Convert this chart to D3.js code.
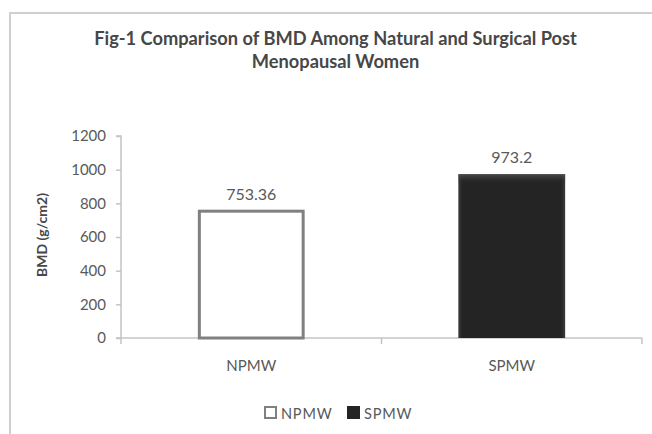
<!DOCTYPE html>
<html>
<head>
<meta charset="utf-8">
<script src="https://cdn.jsdelivr.net/npm/d3@7"></script>
<style>
  html, body { margin: 0; padding: 0; background: #ffffff; }
  svg { display: block; }
  text { font-family: Lato, "Open Sans", sans-serif; }
</style>
</head>
<body>
<svg id="chart" width="652" height="434"></svg>
<script>
const categories = ["NPMW", "SPMW"];
const values = [753.36, 973.2];
const valueLabels = ["753.36", "973.2"];
const yTicks = [0, 200, 400, 600, 800, 1000, 1200];
const titleLines = ["Fig-1 Comparison of BMD Among Natural and Surgical Post", "Menopausal Women"];
const yAxisTitle = "BMD (g/cm2)";

const svg = d3.select("#chart");
const W = 652, H = 434;

// outer chart border (extends past the right and bottom edges)
svg.append("path")
  .attr("d", `M10,${H + 2} L10,13 L${W + 2},13`)
  .attr("fill", "none").attr("stroke", "#cfcfcf").attr("stroke-width", 2);

const m = { left: 121, right: 642, top: 136, bottom: 338 };

const x = d3.scaleBand().domain(categories).range([m.left, m.right]).paddingInner(0.59).paddingOuter(0.295);
const y = d3.scaleLinear().domain([0, 1200]).range([m.bottom, m.top]);

// Title
const fitText = (sel, target) => {
  const fs = parseFloat(sel.attr("font-size"));
  const len = sel.node().getComputedTextLength();
  sel.attr("font-size", (fs * target / len).toFixed(2));
};
const t1 = svg.append("text").attr("x", 335.5).attr("y", 45).attr("text-anchor", "middle")
  .attr("font-size", 16).attr("font-weight", "bold").attr("fill", "#474747").text(titleLines[0]);
fitText(t1, 483);
const t1fs = t1.attr("font-size");
svg.append("text").attr("x", 335.5).attr("y", 68).attr("text-anchor", "middle")
  .attr("font-size", t1fs).attr("font-weight", "bold").attr("fill", "#474747").text(titleLines[1]);

// Y axis
const yAxis = d3.axisLeft(y).tickValues(yTicks).tickSize(5).tickPadding(10).tickFormat(d3.format("d"));
const gy = svg.append("g").attr("transform", `translate(${m.left},0)`).call(yAxis);
gy.select(".domain").attr("stroke", "#c4c4c4").attr("stroke-width", 1.5).attr("d", `M-5,${m.top}H0V${m.bottom}H-5`);
gy.selectAll(".tick line").attr("stroke", "#c4c4c4").attr("stroke-width", 1.5);
gy.selectAll(".tick text").attr("font-size", 15).attr("fill", "#595959").attr("font-family", "Lato, sans-serif");

// X axis
const xAxis = d3.axisBottom(x).tickSize(0).tickPadding(22);
const gx = svg.append("g").attr("transform", `translate(0,${m.bottom})`).call(xAxis);
gx.select(".domain").attr("stroke", "#c4c4c4").attr("stroke-width", 1.5).attr("d", `M${m.left},0H${m.right}`);
gx.selectAll(".tick text").attr("font-size", 15).attr("fill", "#595959").attr("font-family", "Lato, sans-serif");
// category boundary ticks
const bounds = [m.left, (m.left + m.right) / 2, m.right];
svg.append("g").selectAll("line").data(bounds).join("line")
  .attr("x1", d => d).attr("x2", d => d).attr("y1", m.bottom).attr("y2", m.bottom + 6)
  .attr("stroke", "#c4c4c4").attr("stroke-width", 1.5);

// Gradients for dark bar bevel
const defs = svg.append("defs");
const gh = defs.append("linearGradient").attr("id", "darkH").attr("x1", 0).attr("x2", 1).attr("y1", 0).attr("y2", 0);
gh.append("stop").attr("offset", "0").attr("stop-color", "#3a3a3a");
gh.append("stop").attr("offset", "0.04").attr("stop-color", "#242424");
gh.append("stop").attr("offset", "0.96").attr("stop-color", "#242424");
gh.append("stop").attr("offset", "1").attr("stop-color", "#3a3a3a");
const gv = defs.append("linearGradient").attr("id", "darkV").attr("x1", 0).attr("x2", 0).attr("y1", 0).attr("y2", 1);
gv.append("stop").attr("offset", "0").attr("stop-color", "#555").attr("stop-opacity", 0.8);
gv.append("stop").attr("offset", "0.06").attr("stop-color", "#242424").attr("stop-opacity", 0);
gv.append("stop").attr("offset", "1").attr("stop-color", "#242424").attr("stop-opacity", 0);

// Bars
const data = categories.map((c, i) => ({ c, v: values[i], label: valueLabels[i] }));
// NPMW: white with gray outline
svg.append("rect")
  .attr("x", x(data[0].c) + 1.5).attr("y", y(data[0].v))
  .attr("width", x.bandwidth() - 3).attr("height", y(0) - y(data[0].v))
  .attr("fill", "#ffffff").attr("stroke", "#808080").attr("stroke-width", 3);
// SPMW: dark
svg.append("rect")
  .attr("x", x(data[1].c)).attr("y", y(data[1].v))
  .attr("width", x.bandwidth()).attr("height", y(0) - y(data[1].v))
  .attr("fill", "url(#darkH)");
svg.append("rect")
  .attr("x", x(data[1].c)).attr("y", y(data[1].v))
  .attr("width", x.bandwidth()).attr("height", y(0) - y(data[1].v))
  .attr("fill", "url(#darkV)");

// value labels
svg.append("g").selectAll("text").data(data).join("text")
  .attr("x", d => x(d.c) + x.bandwidth() / 2)
  .attr("y", d => y(d.v) - 11)
  .attr("text-anchor", "middle").attr("font-size", 16).attr("fill", "#595959")
  .text(d => d.label);

// Y axis title
svg.append("text")
  .attr("transform", `translate(47,235) rotate(-90)`)
  .attr("text-anchor", "middle").attr("font-size", 14).attr("font-weight", "bold").attr("fill", "#474747")
  .text(yAxisTitle);

// Legend
const legend = svg.append("g");
const legX = [264, 347];
data.forEach((d, i) => {
  legend.append("rect")
    .attr("x", legX[i] + 1).attr("y", 407).attr("width", 11).attr("height", 11)
    .attr("fill", i === 0 ? "#ffffff" : "#242424")
    .attr("stroke", i === 0 ? "#808080" : "#242424").attr("stroke-width", 2);
  legend.append("text")
    .attr("x", legX[i] + 17).attr("y", 418.5)
    .attr("font-size", 14.5).attr("letter-spacing", 0.8).attr("fill", "#595959").text(d.c);
});
</script>
</body>
</html>
